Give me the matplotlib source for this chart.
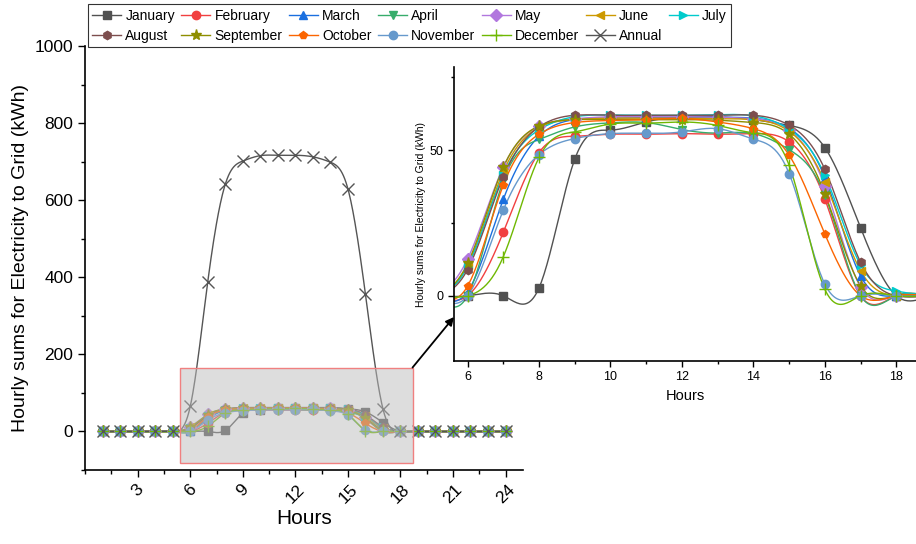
import numpy as np
import matplotlib
matplotlib.use('Agg')
import matplotlib.pyplot as plt
from matplotlib.patches import Rectangle, ConnectionPatch

plt.rcParams['font.family'] = ['Liberation Sans', 'DejaVu Sans']

# ---- data (kWh) ----
hours = list(range(1, 25))
jan = [0, 0, 0, 0, 0, 0, 0, 2.7, 46.9, 56.9, 59.7, 61.5, 61.5, 60.5, 58.5, 50.9, 23.3, 0, 0, 0, 0, 0, 0, 0]
feb = [0, 0, 0, 0, 0, 0, 21.8, 49.2, 54.8, 55.5, 55.5, 55.7, 55.5, 55.7, 52.9, 33.2, 0, 0, 0, 0, 0, 0, 0, 0]
mar = [0, 0, 0, 0, 0, 1.4, 33.1, 54.8, 60.5, 61.0, 61.2, 61.3, 61.3, 61.0, 57.5, 40.6, 6.8, 0, 0, 0, 0, 0, 0, 0]
apr = [0, 0, 0, 0, 0, 0, 39.5, 53.7, 58.0, 59.4, 59.5, 57.1, 55.9, 55.7, 50.2, 34.5, 0, 0, 0, 0, 0, 0, 0, 0]
may = [0, 0, 0, 0, 0, 12.6, 44.2, 58.2, 60.8, 61.5, 61.5, 61.5, 61.3, 60.8, 57.0, 37.6, 3.0, 0, 0, 0, 0, 0, 0, 0]
jun = [0, 0, 0, 0, 0, 10.5, 42.6, 57.8, 60.5, 61.0, 61.0, 61.0, 60.8, 60.5, 56.5, 39.1, 8.6, 0, 0, 0, 0, 0, 0, 0]
jul = [0, 0, 0, 0, 0, 10.0, 41.5, 57.0, 61.5, 62.1, 62.0, 62.0, 62.2, 61.8, 57.2, 41.4, 10.5, 1.6, 0, 0, 0, 0, 0, 0]
aug = [0, 0, 0, 0, 0, 9.0, 40.8, 58.0, 62.0, 62.0, 62.0, 62.0, 62.0, 62.0, 58.6, 43.4, 11.5, 0, 0, 0, 0, 0, 0, 0]
sep = [0, 0, 0, 0, 0, 11.1, 44.1, 58.3, 60.5, 60.5, 60.5, 60.5, 60.3, 59.5, 55.5, 35.1, 3.4, 0, 0, 0, 0, 0, 0, 0]
oct_ = [0, 0, 0, 0, 0, 3.3, 38.0, 55.5, 59.5, 60.2, 60.5, 60.9, 59.7, 57.4, 48.3, 21.2, 0, 0, 0, 0, 0, 0, 0, 0]
nov = [0, 0, 0, 0, 0, 0, 29.4, 48.5, 54.0, 55.7, 55.8, 56.3, 57.4, 53.8, 42.0, 4.0, 0, 0, 0, 0, 0, 0, 0, 0]
dec = [0, 0, 0, 0, 0, 0, 13.4, 47.5, 56.3, 59.0, 59.3, 59.7, 58.5, 56.0, 44.8, 2.2, 0, 0, 0, 0, 0, 0, 0, 0]
annual = [0, 0, 0, 0, 0, 65.5, 389, 642, 702, 716, 717, 717, 713, 699, 630, 357, 59, 0, 0, 0, 0, 0, 0, 0]

names = ['January', 'February', 'March', 'April', 'May', 'June', 'July',
         'August', 'September', 'October', 'November', 'December', 'Annual']
series = [jan, feb, mar, apr, may, jun, jul, aug, sep, oct_, nov, dec, annual]
colors = ['#515151', '#F14040', '#1A6FDF', '#37AD6B', '#B177DE', '#CC9900', '#00CBCC',
          '#7D4E4E', '#8E8E00', '#FB6501', '#6699CC', '#6FB802', '#555555']
markers = ['s', 'o', '^', 'v', 'D', '<', '>', 'h', '*', 'p', 'o', '+', 'x']

# zoom window shown in the inset
zoom_x = (5.43, 18.69)
zoom_y = (-82, 166)


def smooth(x, y, n=600):
    # natural cubic spline, only used to draw the connecting line
    x = np.asarray(x, float)
    y = np.asarray(y, float)
    k = len(x)
    h = np.diff(x)
    A = np.zeros((k, k))
    b = np.zeros(k)
    A[0, 0] = A[-1, -1] = 1
    for i in range(1, k - 1):
        A[i, i - 1] = h[i - 1]
        A[i, i] = 2 * (h[i - 1] + h[i])
        A[i, i + 1] = h[i]
        b[i] = 6 * ((y[i + 1] - y[i]) / h[i] - (y[i] - y[i - 1]) / h[i - 1])
    M = np.linalg.solve(A, b)
    xs = np.linspace(x[0], x[-1], n)
    idx = np.clip(np.searchsorted(x, xs) - 1, 0, k - 2)
    x0, x1 = x[idx], x[idx + 1]
    hh = x1 - x0
    t1 = x1 - xs
    t0 = xs - x0
    ys = (M[idx] * t1 ** 3 + M[idx + 1] * t0 ** 3) / (6 * hh) \
        + (y[idx] / hh - M[idx] * hh / 6) * t1 + (y[idx + 1] / hh - M[idx + 1] * hh / 6) * t0
    return xs, ys


fig = plt.figure(figsize=(9.16, 5.44), dpi=100)
ax = fig.add_axes([0.093, 0.136, 0.478, 0.779])
axin = fig.add_axes([0.4956, 0.3364, 0.5044, 0.540])

handles = {}
for name, vals, c, m in zip(names, series, colors, markers):
    xs, ys = smooth(hours, vals)
    ms = 6 if m not in ('*', '+', 'x') else 8
    ax.plot(xs, ys, '-', color=c, lw=1.0, zorder=2)
    ax.plot(hours, vals, linestyle='none', marker=m, color=c, ms=ms, mew=1.0, zorder=3)
    if name != 'Annual':
        axin.plot(xs, ys, '-', color=c, lw=1.0, zorder=2)
        axin.plot(hours, vals, linestyle='none', marker=m, color=c, ms=ms, mew=1.0, zorder=3)
    h, = plt.plot([], [], '-', color=c, marker=m, ms=ms, lw=1.0)
    handles[name] = h

# grey zoom box on the main plot
ax.add_patch(Rectangle((zoom_x[0], zoom_y[0]), zoom_x[1] - zoom_x[0], zoom_y[1] - zoom_y[0],
                       facecolor='#bdbdbd', alpha=0.5, edgecolor='none', zorder=4))
ax.add_patch(Rectangle((zoom_x[0], zoom_y[0]), zoom_x[1] - zoom_x[0], zoom_y[1] - zoom_y[0],
                       facecolor='none', edgecolor='#F08080', lw=1.0, zorder=5))

# main axes
ax.set_xlim(0, 25)
ax.set_ylim(-100, 1000)
ax.set_xticks(range(3, 25, 3))
ax.set_xticks(np.arange(0, 25, 1.5), minor=True)
ax.set_yticks(range(0, 1001, 200))
ax.set_yticks(range(-100, 1001, 100), minor=True)
ax.tick_params(axis='both', which='major', labelsize=12.5, length=5, width=1.0, direction='out')
ax.tick_params(axis='both', which='minor', length=3, width=1.0, direction='out')
for lab in ax.get_xticklabels():
    lab.set_rotation(45)
ax.spines['top'].set_visible(False)
ax.spines['right'].set_visible(False)
ax.spines['left'].set_linewidth(1.2)
ax.spines['bottom'].set_linewidth(1.2)
ax.set_xlabel('Hours', fontsize=15, labelpad=2)
ax.set_ylabel('Hourly sums for Electricity to Grid (kWh)', fontsize=14, labelpad=4)

# inset axes
axin.set_xlim(5.62, 18.55)
axin.set_ylim(-22.4, 78.5)
axin.set_xticks(range(6, 19, 2))
axin.set_xticks(range(6, 19, 1), minor=True)
axin.set_yticks([0, 50])
axin.set_yticks([25, 75], minor=True)
axin.tick_params(axis='both', which='major', labelsize=9, length=4, width=1.0, direction='out')
axin.tick_params(axis='both', which='minor', length=2.5, width=1.0, direction='out')
axin.spines['top'].set_visible(False)
axin.spines['right'].set_visible(False)
axin.spines['left'].set_linewidth(1.2)
axin.spines['bottom'].set_linewidth(1.2)
axin.patch.set_alpha(0)
axin.set_xlabel('Hours', fontsize=10.5, labelpad=4)
axin.set_ylabel('Hourly sums for Electricity to Grid (kWh)', fontsize=7.5, labelpad=3)

# arrow from zoom box to inset
arrow = ConnectionPatch(xyA=(zoom_x[1], zoom_y[1]), coordsA=ax.transData,
                        xyB=(5.62, -7.3), coordsB=axin.transData,
                        arrowstyle='-|>', color='black', lw=1.3, mutation_scale=12)
fig.add_artist(arrow)

# legend filled row by row (matplotlib fills columns first)
leg_order = ['January', 'August', 'February', 'September', 'March', 'October', 'April',
             'November', 'May', 'December', 'June', 'Annual', 'July']
leg = fig.legend([handles[n] for n in leg_order], leg_order, loc='upper left',
                 bbox_to_anchor=(0.096, 0.992), ncol=7,
                 fontsize=10, frameon=True, fancybox=False, edgecolor='black',
                 handlelength=2.1, handletextpad=0.3, columnspacing=0.45,
                 labelspacing=0.45, borderpad=0.3, borderaxespad=0)
leg.get_frame().set_linewidth(0.8)

plt.savefig('out.png', dpi=100)
plt.close()
